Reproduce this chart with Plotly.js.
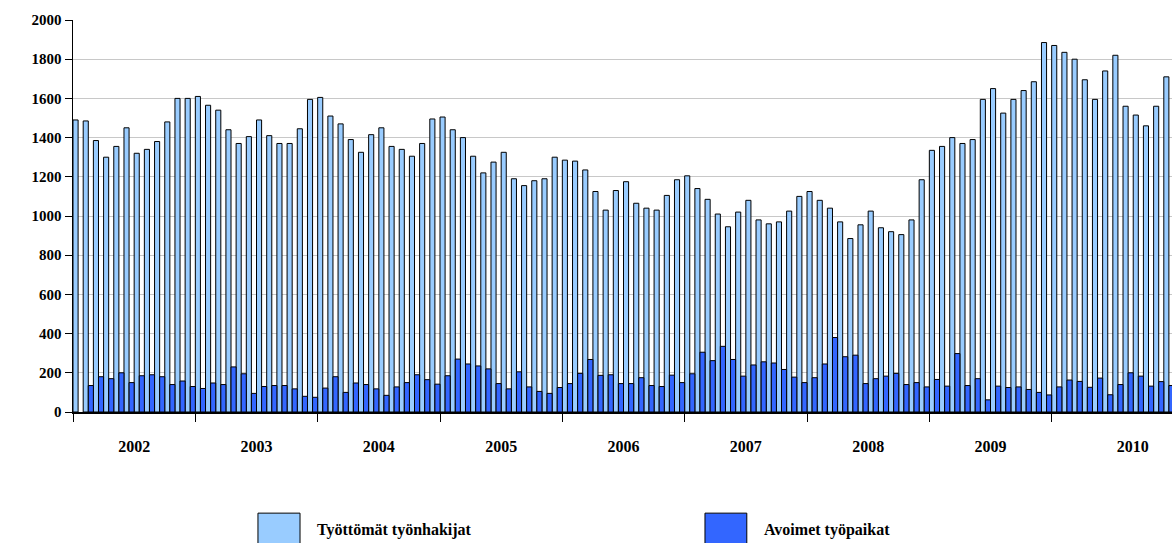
<!DOCTYPE html>
<html>
<head>
<meta charset="utf-8">
<script src="https://cdn.plot.ly/plotly-3.0.1.min.js"></script>
<style>
html,body{margin:0;padding:0;overflow:hidden;background:#fff;}
#chart{width:1180px;height:543px;}
</style>
</head>
<body>
<div id="chart"></div>
<script>
const years = ["2002","2003","2004","2005","2006","2007","2008","2009","2010"];
const seriesNames = ["Työttömät työnhakijat","Avoimet työpaikat"];
// Monthly values Jan 2002 - Dec 2010
const unemployed = [
  1490,1485,1385,1300,1355,1450,1320,1340,1380,1480,1600,1600,
  1610,1565,1540,1440,1370,1405,1490,1410,1370,1370,1445,1595,
  1605,1510,1470,1390,1325,1415,1450,1355,1340,1305,1370,1495,
  1505,1440,1400,1305,1220,1275,1325,1190,1155,1180,1190,1300,
  1285,1280,1235,1125,1030,1130,1175,1065,1040,1030,1105,1185,
  1205,1140,1085,1010,945,1020,1080,980,960,970,1025,1100,
  1125,1080,1040,970,885,955,1025,940,920,905,980,1185,
  1335,1355,1400,1370,1390,1595,1650,1525,1595,1640,1685,1885,
  1870,1835,1800,1695,1595,1740,1820,1560,1515,1460,1560,1710
];
const vacancies = [
  null,135,180,170,200,150,185,190,180,140,158,130,
  120,148,140,230,195,95,130,135,135,118,80,75,
  122,180,100,148,140,118,85,128,150,190,165,142,
  185,270,245,235,220,145,118,205,128,105,95,125,
  145,197,268,187,190,145,145,175,135,130,188,150,
  195,305,262,335,268,183,240,256,250,217,178,150,
  175,245,380,282,290,145,170,183,197,140,150,128,
  166,132,298,135,170,62,132,125,128,115,100,87,
  128,163,156,126,173,88,140,200,183,132,155,135
];

const idx = unemployed.map((_, i) => i);
const boundaries = years.map((_, k) => 12 * k - 0.5);
const mids = years.map((_, k) => 12 * k + 5.5);
// the last year label sits further right in the original (its span is cut at the edge)
const yearText = years.map((y, k) => k === years.length - 1 ? '\u2007\u2007\u2007\u2007\u2007' + y : y);
const xr = [-0.5, unemployed.length - 0.5];
const font = "'Liberation Serif','Times New Roman',serif";

const data = [
  {type:'bar', x: idx, y: unemployed, name: seriesNames[0],
   marker:{color:'#99ccff', line:{color:'#000', width:1}}, showlegend:false},
  {type:'bar', x: idx, y: vacancies, name: seriesNames[1],
   marker:{color:'#3366ff', line:{color:'#000', width:1}}, showlegend:false}
];

const layout = {
  width: 1180, height: 543,
  margin: {l:73, r:6, t:20, b:131},
  paper_bgcolor:'#fff', plot_bgcolor:'#fff',
  barmode:'group', bargap:0, bargroupgap:0,
  font:{family:font, color:'#000'},
  xaxis:{range:xr, tickmode:'array', tickvals:mids, ticktext:yearText,
         ticks:'outside', ticklen:19, tickcolor:'rgba(0,0,0,0)',
         tickfont:{family:font, size:16, color:'#000', weight:'bold'},
         minor:{tickmode:'array', tickvals:boundaries, ticks:'outside', ticklen:8,
                tickcolor:'#000', tickwidth:1, showgrid:false},
         showgrid:false, zeroline:false, showline:true, linecolor:'#000', linewidth:1.5, fixedrange:true},
  yaxis:{range:[0,2000], dtick:200, tick0:0, ticks:'outside', ticklen:7, tickcolor:'#000',
         showline:true, linecolor:'#000', linewidth:1.5, gridcolor:'#c8c8c8', gridwidth:1,
         zeroline:false, tickfont:{family:font, size:15, color:'#000', weight:'bold'}},
  shapes:[
    {type:'rect', xref:'paper', yref:'paper', x0:0.168, x1:0.2062, y0:-0.258, y1:-0.34,
     fillcolor:'#99ccff', line:{color:'#000', width:1}},
    {type:'rect', xref:'paper', yref:'paper', x0:0.574, x1:0.612, y0:-0.258, y1:-0.34,
     fillcolor:'#3366ff', line:{color:'#000', width:1}}
  ],
  annotations:[
    {xref:'paper', yref:'paper', x:0.2196, y:-0.3, xanchor:'left', yanchor:'middle', showarrow:false,
     text:seriesNames[0], font:{family:font, size:16, color:'#000', weight:'bold'}},
    {xref:'paper', yref:'paper', x:0.626, y:-0.3, xanchor:'left', yanchor:'middle', showarrow:false,
     text:seriesNames[1], font:{family:font, size:16, color:'#000', weight:'bold'}}
  ]
};

Plotly.newPlot('chart', data, layout, {displayModeBar:false, staticPlot:true});
</script>
</body>
</html>
